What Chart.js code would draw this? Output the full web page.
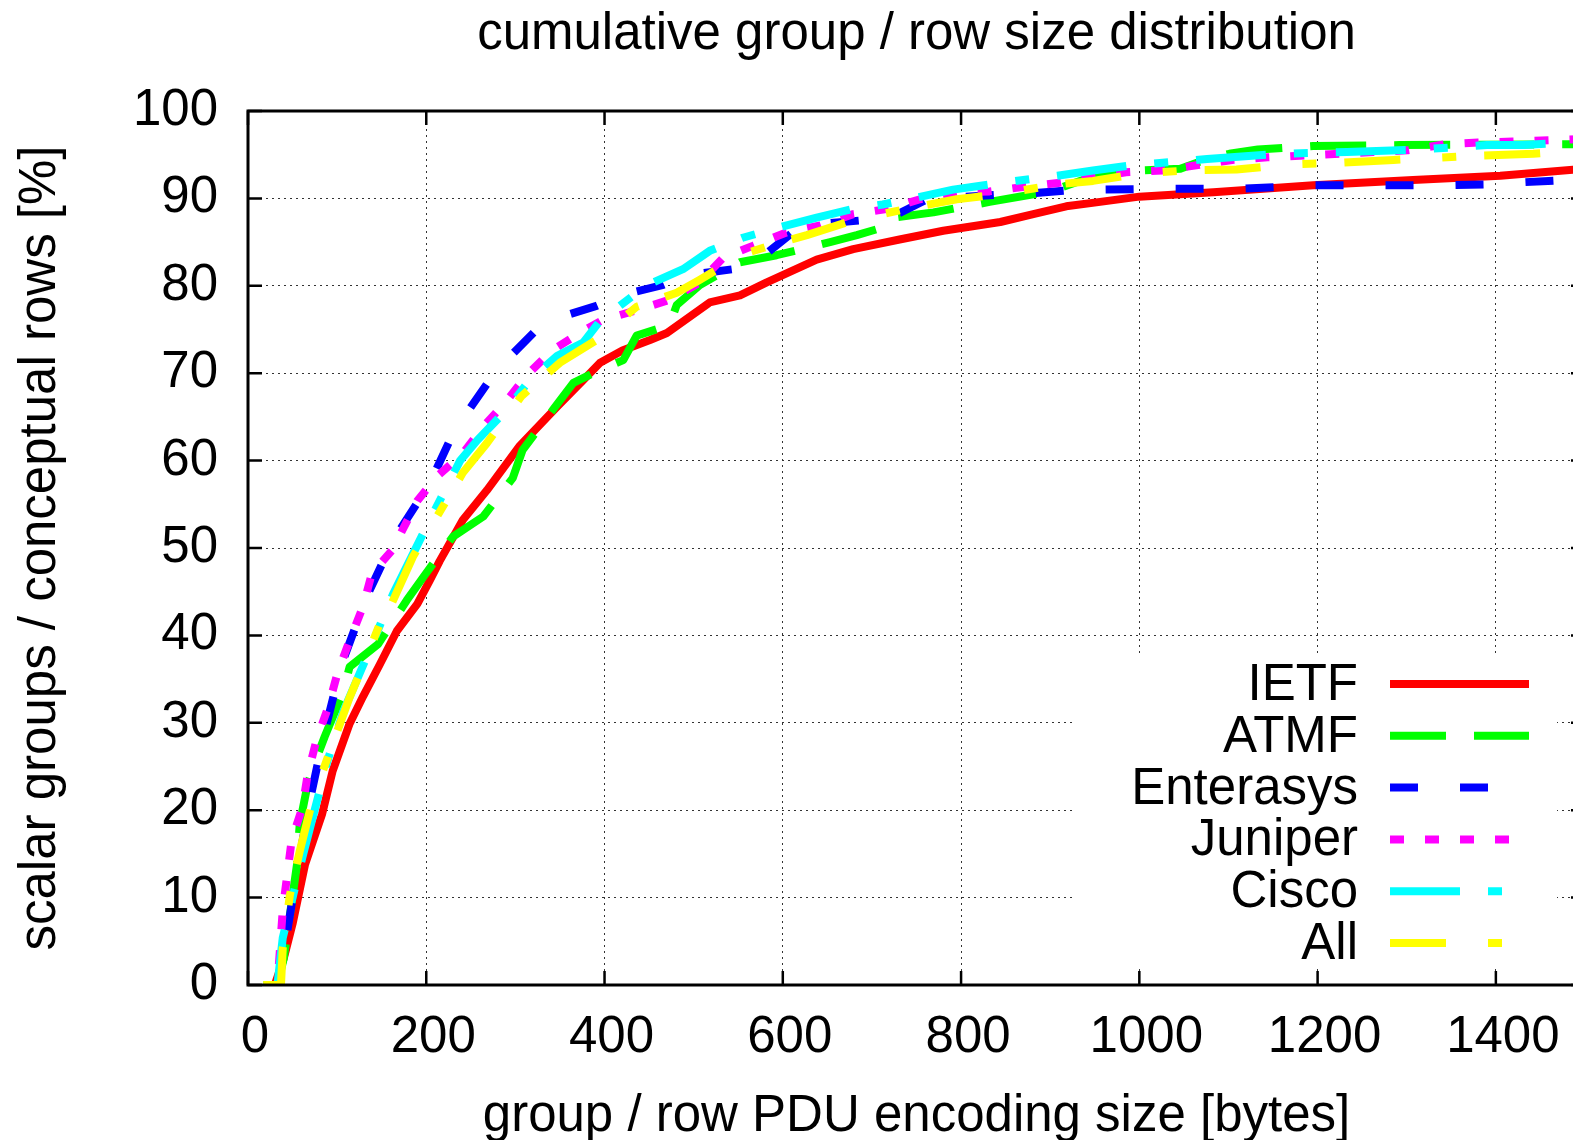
<!DOCTYPE html>
<html>
<head>
<meta charset="utf-8">
<script src="https://cdn.jsdelivr.net/npm/chart.js@4.4.1/dist/chart.umd.min.js"></script>
<style>
  body { margin: 0; background: #fff; overflow: hidden; }
  #chart { display: block; }
</style>
</head>
<body>
<canvas id="chart" width="1600" height="1140" style="width:1600px;height:1140px"></canvas>
<script>
// cumulative size distribution per vendor, [bytes, percent]

const seriesNames = ['IETF', 'ATMF', 'Enterasys', 'Juniper', 'Cisco', 'All'];
const seriesColors = ['#ff0000', '#00ff00', '#0000ff', '#ff00ff', '#00ffff', '#ffff00'];

const ietf = [[17,0],[30,0],[40,3],[50,7],[64,13.8],[83,19.5],[95,24.5],[114,29.9],[129,33],[148,36.7],
  [167,40.5],[190,43.6],[204,46.3],[215,48.5],[241,53.2],[268,56.6],[305,61.7],[347,66.2],[376,69.2],
  [395,71.2],[420,72.6],[451,73.8],[470,74.6],[518,78.1],[552,78.9],[582,80.4],[638,83],[679,84.2],
  [731,85.3],[780,86.3],[844,87.3],[881,88.2],[918,89.1],[956,89.6],[1000,90.2],[1083,90.7],
  [1195,91.5],[1307,92.1],[1405,92.6],[1500,93.4]];

const atmf = [[17,0],[33,0],[40,3],[47,8],[55,13.8],[58,18.4],[67,23],[77,26],[86,28.4],[107,33.6],
  [114,36.4],[146,39],[178,44],[199,47],[230,51.3],[264,53.6],[297,58],[308,61.2],[342,65.8],
  [365,68.9],[395,70.4],[421,71.5],[436,74.3],[473,75.5],[481,77.8],[507,80.1],[552,82.7],
  [593,83.5],[653,85],[683,85.8],[720,86.9],[724,87.8],[769,88.4],[832,89.6],[900,90.8],
  [956,92.8],[998,93.2],[1046,93.4],[1076,94.5],[1101,95.1],[1133,95.6],[1195,96],[1292,96.1],
  [1500,96.2]];

const enterasys = [[17,0],[33,0],[44,6.1],[55,13],[70,21.4],[86,29],[105,36.7],[133,44.4],[163,50.9],
  [204,57.4],[230,63.1],[245,65.4],[271,69.2],[290,71.5],[324,75],[350,76.4],[391,77.7],[421,79],
  [466,80.1],[492,81.2],[544,81.9],[572,82.9],[611,86.1],[634,87],[690,87.5],[717,87.6],[762,89.9],
  [791,90.1],[840,90.4],[869,90.5],[919,90.9],[948,91],[1030,91.1],[1110,91.1],[1154,91.3],
  [1186,91.5],[1264,91.5],[1342,91.5],[1391,91.6],[1421,91.8],[1500,92.2]];

const juniper = [[17,0],[33,0],[39,8.6],[44,12.6],[49,16.6],[61,20.3],[67,24.1],[77,28.1],[90,31.8],
  [101,35.9],[114,39.4],[129,43.3],[139,47.1],[163,49.9],[173,52],[190,55.4],[212,58.2],[241,60.8],
  [264,63.9],[290,66.8],[313,69.8],[341,72.6],[372,74.6],[398,76.1],[436,77.2],[473,78.4],
  [507,80.4],[533,83.2],[567,84.6],[604,86.1],[642,86.9],[679,88.2],[718,88.8],[754,89.9],
  [795,90.7],[832,90.8],[869,91.3],[911,91.8],[985,93],[1026,93.2],[1104,94.4],[1144,94.7],
  [1262,95.3],[1301,95.5],[1343,96.2],[1380,96.4],[1419,96.5],[1500,96.8]];

const cisco = [[17,0],[33,0],[39,5.4],[61,14.6],[89,25.6],[107,31.3],[133,37.5],[163,44.8],[204,53.2],
  [238,60],[257,62.3],[290,65.8],[316,69.2],[347,72],[376,73.5],[395,76],[417,77.7],[448,80.1],
  [488,81.9],[518,84],[555,85.5],[597,86.7],[638,87.8],[679,88.8],[712,89.3],[750,90.1],[791,91],
  [832,91.6],[908,92.6],[948,93.2],[993,93.8],[1076,94.5],[1158,95.1],[1233,95.3],[1315,95.6],
  [1390,96.1],[1430,96.1],[1500,96.5]];

const all = [[17,0],[37,0],[39,4.2],[47,10.3],[58,15.3],[73,21.4],[95,27.6],[114,32.9],[133,37.5],
  [151,42.1],[161,43.6],[185,49],[219,54.8],[241,58.6],[268,62],[307,67.4],[350,71.2],[391,73.8],
  [436,77.6],[481,79.2],[507,80.7],[555,83.6],[589,84.7],[627,85.8],[679,87.5],[739,88.8],
  [795,89.9],[844,90.5],[908,91.6],[948,92],[997,92.8],[1053,93.2],[1109,93.3],[1169,93.9],
  [1227,94.1],[1285,94.4],[1345,94.7],[1382,94.9],[1442,95.1],[1500,95.5]];

const seriesData = [ietf, atmf, enterasys, juniper, cisco, all];
const dashes = [[], [56, 28], [28, 42], [14, 21], [70, 28, 14, 28], [56, 42, 14, 28]];
const xTicks = [0, 200, 400, 600, 800, 1000, 1200, 1400];

const FONT = 'Liberation Sans, Arial, sans-serif';

// gnuplot style frame with inward ticks
const framePlugin = {
  id: 'frame',
  afterDatasetsDraw(chart) {
    const {ctx, chartArea: a, scales: {x, y}} = chart;
    ctx.save();
    ctx.strokeStyle = '#000';
    ctx.lineWidth = 2.5;
    ctx.setLineDash([]);
    ctx.beginPath();
    x.ticks.forEach(t => {
      const px = x.getPixelForValue(t.value);
      ctx.moveTo(px, a.bottom); ctx.lineTo(px, a.bottom - 14);
      ctx.moveTo(px, a.top); ctx.lineTo(px, a.top + 14);
    });
    y.ticks.forEach(t => {
      const py = y.getPixelForValue(t.value);
      ctx.moveTo(a.left, py); ctx.lineTo(a.left + 14, py);
      ctx.moveTo(a.right, py); ctx.lineTo(a.right - 14, py);
    });
    ctx.stroke();
    ctx.lineWidth = 3;
    ctx.strokeRect(a.left, a.top, a.right - a.left, a.bottom - a.top);
    ctx.restore();
  }
};

// key in the lower right, text on the left of the sample line
const keyPlugin = {
  id: 'key',
  afterDatasetsDraw(chart) {
    const ctx = chart.ctx;
    ctx.save();
    ctx.fillStyle = '#fff';
    ctx.fillRect(1075, 657, 482, 310);
    ctx.font = '51px ' + FONT;
    ctx.textAlign = 'right';
    ctx.textBaseline = 'middle';
    chart.data.datasets.forEach((ds, i) => {
      const yy = 684 + i * 51.8;
      ctx.fillStyle = '#000';
      ctx.fillText(ds.label, 1358, yy + 2);
      ctx.strokeStyle = ds.borderColor;
      ctx.lineWidth = 8;
      ctx.lineCap = 'butt';
      ctx.setLineDash(ds.borderDash);
      ctx.beginPath();
      ctx.moveTo(1390, yy);
      ctx.lineTo(1529, yy);
      ctx.stroke();
    });
    ctx.restore();
  }
};

const datasets = seriesNames.map((name, i) => ({
  label: name,
  data: seriesData[i].map(p => ({x: p[0], y: p[1]})),
  borderColor: seriesColors[i],
  backgroundColor: seriesColors[i],
  borderWidth: 8,
  borderDash: dashes[i],
  borderCapStyle: 'butt',
  borderJoinStyle: 'round',
  pointRadius: 0,
  tension: 0,
  showLine: true,
  fill: false,
  order: seriesNames.length - i
}));

const ctx = document.getElementById('chart').getContext('2d');
new Chart(ctx, {
  type: 'scatter',
  data: { datasets: datasets },
  plugins: [framePlugin, keyPlugin],
  options: {
    responsive: false,
    animation: false,
    layout: { padding: { left: 0, right: 15, top: 0, bottom: 0 } },
    plugins: {
      legend: { display: false },
      tooltip: { enabled: false },
      title: {
        display: true, fullSize: false,
        text: 'cumulative group / row size distribution',
        color: '#000', font: { family: FONT, size: 51, weight: 'normal' },
        padding: { top: 4, bottom: 45.8 }
      }
    },
    scales: {
      x: {
        type: 'linear', min: 0, max: 1500,
        afterFit: s => { s.height = 155; },
        afterBuildTicks: s => { s.ticks = xTicks.map(v => ({ value: v })); },
        ticks: { autoSkip: false, color: '#000', padding: 22, labelOffset: 7, maxRotation: 0,
          callback: v => String(v), font: { family: FONT, size: 51 } },
        grid: { color: '#333', lineWidth: 1, drawTicks: false },
        border: { display: false, dash: [2, 4] },
        title: { display: true, text: 'group / row PDU encoding size [bytes]', color: '#000',
          font: { family: FONT, size: 51 }, padding: { top: 0, bottom: -8 } }
      },
      y: {
        min: 0, max: 100,
        afterFit: s => { s.width = 248; },
        ticks: { stepSize: 10, color: '#000', padding: 30, font: { family: FONT, size: 51 } },
        grid: { color: '#333', lineWidth: 1, drawTicks: false },
        border: { display: false, dash: [2, 4] },
        title: { display: true, text: 'scalar groups / conceptual rows [%]', color: '#000',
          font: { family: FONT, size: 51 }, padding: { top: 10, bottom: 0 } }
      }
    }
  }
});
</script>
</body>
</html>
